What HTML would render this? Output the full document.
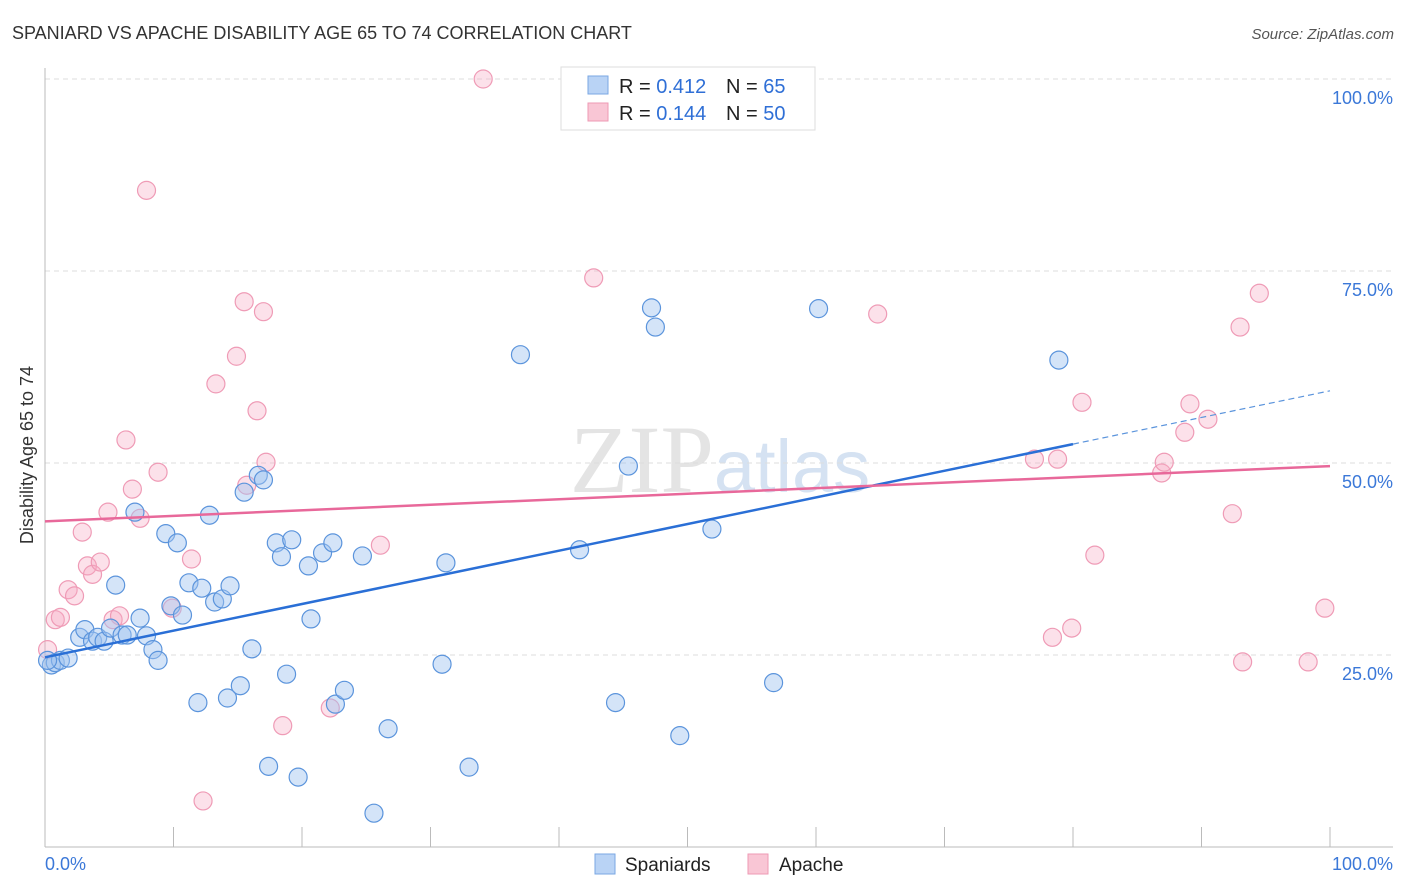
<!DOCTYPE html>
<html><head><meta charset="utf-8"><style>
body{margin:0;background:#fff;font-family:"Liberation Sans",sans-serif;}
svg{display:block}
</style></head><body>
<svg id="chart" width="1406" height="892">
<text x="12" y="39" font-size="18" fill="#333">SPANIARD VS APACHE DISABILITY AGE 65 TO 74 CORRELATION CHART</text>
<text x="1394" y="39" font-size="15" fill="#555" font-style="italic" text-anchor="end">Source: ZipAtlas.com</text>
<text x="720" y="492" font-size="96" fill="#e4e4e4" text-anchor="middle" font-family="Liberation Serif">ZIP<tspan fill="#d5e2f2" font-family="Liberation Sans" font-size="74">atlas</tspan></text>
<g id="grid"></g>
<g id="axes"></g>
<g id="marks"></g>
<text transform="translate(33,455) rotate(-90)" font-size="18" fill="#333" text-anchor="middle">Disability Age 65 to 74</text>
<g>
<rect x="561" y="67" width="254" height="63" fill="#fff" stroke="#ddd"/>
<rect x="588" y="76" width="20" height="18" fill="#b9d3f5" stroke="#7aa7e3"/>
<rect x="588" y="103" width="20" height="18" fill="#f9c6d5" stroke="#ee9ab4"/>
<text x="619" y="93" font-size="20" fill="#222">R = <tspan fill="#2f6fd6">0.412</tspan><tspan x="726">N = </tspan><tspan fill="#2f6fd6">65</tspan></text>
<text x="619" y="120" font-size="20" fill="#222">R = <tspan fill="#2f6fd6">0.144</tspan><tspan x="726">N = </tspan><tspan fill="#2f6fd6">50</tspan></text>
</g>
<g>
<rect x="595" y="854" width="20" height="20" fill="#b9d3f5" stroke="#7aa7e3"/>
<text x="625" y="871" font-size="19" fill="#222">Spaniards</text>
<rect x="748" y="854" width="20" height="20" fill="#f9c6d5" stroke="#ee9ab4"/>
<text x="779" y="871" font-size="19" fill="#222">Apache</text>
</g>
</svg>
<script>
const xTicks=[0,10,20,30,40,50,60,70,80,90,100];
const yTicks=[25,50,75,100];
const yTickLabels=["25.0%","50.0%","75.0%","100.0%"];
const blueX=[0.5,0.8,1.2,1.8,2.7,3.1,3.7,4.1,4.6,5.1,5.5,6.0,6.4,7.0,7.4,7.9,8.4,8.8,9.4,9.8,10.3,10.7,11.2,11.9,12.2,12.8,13.2,13.8,14.2,14.4,15.2,15.5,16.1,16.6,17.0,17.4,18.0,18.4,18.8,19.2,19.7,20.5,20.7,21.6,22.4,22.6,23.3,24.7,25.6,26.7,30.9,31.2,33.0,37.0,41.6,44.4,45.4,47.2,47.5,49.4,51.9,56.7,60.2,78.9,0.2];
const blueY=[23.7,24.0,24.3,24.6,27.3,28.3,26.8,27.3,26.8,28.5,34.1,27.6,27.6,43.6,29.8,27.5,25.7,24.3,40.8,31.4,39.6,30.2,34.4,18.8,33.7,43.2,31.9,32.3,19.4,34.0,21.0,46.2,25.8,48.4,47.8,10.5,39.6,37.8,22.5,40.0,9.1,36.6,29.7,38.3,39.6,18.6,20.4,37.9,4.4,15.4,23.8,37.0,10.4,64.1,38.7,18.8,49.6,70.2,67.7,14.5,41.4,21.4,70.1,63.4,24.3];
const pinkX=[0.2,0.8,1.2,1.8,2.3,2.9,3.3,3.7,4.3,4.9,5.3,5.8,6.3,6.8,7.4,7.9,8.8,9.9,11.4,12.3,13.3,14.9,15.5,15.7,16.5,17.0,17.2,18.5,22.2,26.1,34.1,42.7,64.8,77.0,78.4,78.8,79.9,80.7,81.7,86.9,87.1,88.7,89.1,90.5,92.4,93.0,93.2,94.5,98.3,99.6];
const pinkY=[25.7,29.6,29.9,33.5,32.7,41.0,36.6,35.5,37.1,43.6,29.6,30.1,53.0,46.6,42.8,85.5,48.8,31.1,37.5,6.0,60.3,63.9,71.0,47.1,56.8,69.7,50.1,15.8,18.1,39.3,100,74.1,69.4,50.5,27.3,50.5,28.5,57.9,38.0,48.7,50.1,54.0,57.7,55.7,43.4,67.7,24.1,72.1,24.1,31.1];
const blueTrend=[24.7,59.4];
const pinkTrend=[42.4,49.6];
const NS="http://www.w3.org/2000/svg";
const X=v=>45+v*12.85, Y=v=>847-v*7.68;
function mk(t,a,p){const e=document.createElementNS(NS,t);for(const k in a)e.setAttribute(k,a[k]);p.appendChild(e);return e;}
const grid=document.getElementById('grid'),axes=document.getElementById('axes'),marks=document.getElementById('marks');
yTicks.forEach((t,i)=>{
 const l=mk('line',{x1:45,x2:1393,y1:Y(t),y2:Y(t),stroke:'#ddd','stroke-dasharray':'5,4'},grid);
 
 
 const tx=mk('text',{x:1393,y:Y(t)+25,'font-size':18,fill:'#3b78d8','text-anchor':'end'},axes);
 tx.textContent=yTickLabels[i];
 
 
});
mk('line',{x1:45,x2:45,y1:68,y2:847,stroke:'#bbb'},axes);
mk('line',{x1:45,x2:1393,y1:847,y2:847,stroke:'#bbb'},axes);
xTicks.forEach(t=>{if(t>0){const l=mk('line',{x1:X(t),x2:X(t),y1:827,y2:847,stroke:'#bbb'},axes);
 
 }});
const xl0=mk('text',{x:45,y:870,'font-size':18,fill:'#3b78d8'},axes);xl0.textContent='0.0%';


const xl1=mk('text',{x:1393,y:870,'font-size':18,fill:'#3b78d8','text-anchor':'end'},axes);xl1.textContent='100.0%';


pinkX.forEach((v,i)=>{const c=mk('circle',{cx:X(v),cy:Y(pinkY[i]),r:9,fill:'rgba(246,170,196,0.35)',stroke:'#ef9bb6','stroke-width':1.2},marks);
 
 });
blueX.forEach((v,i)=>{const c=mk('circle',{cx:X(v),cy:Y(blueY[i]),r:9,fill:'rgba(160,196,240,0.45)',stroke:'#5b94dc','stroke-width':1.2},marks);
 
 });
const bAt=x=>blueTrend[0]+(blueTrend[1]-blueTrend[0])*x/100;
const bt=mk('line',{x1:X(0),y1:Y(bAt(0)),x2:X(80),y2:Y(bAt(80)),stroke:'#2a6fd6','stroke-width':2.5},marks);


const bd=mk('line',{x1:X(80),y1:Y(bAt(80)),x2:X(100),y2:Y(bAt(100)),stroke:'#5b94dc','stroke-width':1.2,'stroke-dasharray':'6,4'},marks);


const pt=mk('line',{x1:X(0),y1:Y(pinkTrend[0]),x2:X(100),y2:Y(pinkTrend[1]),stroke:'#e8689a','stroke-width':2.5},marks);


</script>
</body></html>
